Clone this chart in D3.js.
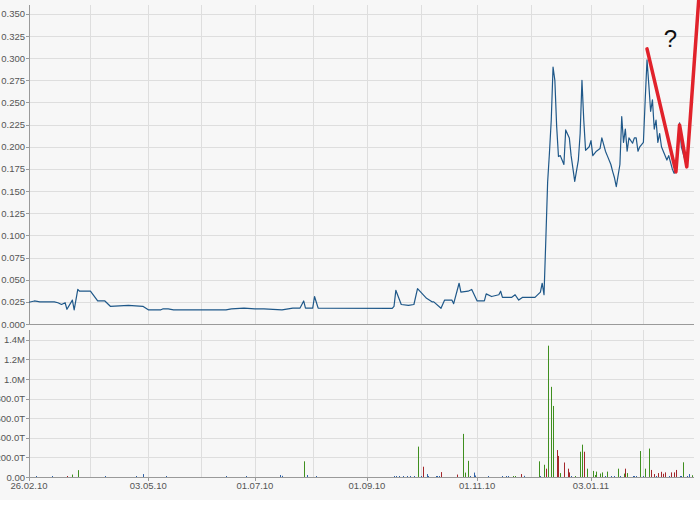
<!DOCTYPE html>
<html>
<head>
<meta charset="utf-8">
<script src="https://cdn.jsdelivr.net/npm/d3@7"></script>
<style>
  html, body { margin: 0; padding: 0; background: #ffffff; }
  svg { display: block; }
  text { font-family: "Liberation Sans", Arial, sans-serif; }
</style>
</head>
<body>
<svg id="chart" width="700" height="509"></svg>
<script>
// ---------- DATA ----------
const priceDates = [
"2010-02-26","2010-03-01","2010-03-04","2010-03-12","2010-03-14","2010-03-16","2010-03-18","2010-03-19",
"2010-03-22","2010-03-23","2010-03-25","2010-03-26","2010-04-01","2010-04-05","2010-04-09","2010-04-12",
"2010-04-22","2010-04-30","2010-05-03","2010-05-10","2010-05-11","2010-05-14","2010-05-17","2010-06-15",
"2010-06-18","2010-06-25","2010-07-01","2010-07-06","2010-07-16","2010-07-22","2010-07-26","2010-07-28",
"2010-07-29","2010-08-02","2010-08-03","2010-08-05","2010-09-15","2010-09-16","2010-09-17","2010-09-20",
"2010-09-24","2010-09-27","2010-09-29","2010-10-04","2010-10-07","2010-10-08","2010-10-12","2010-10-14",
"2010-10-18","2010-10-19","2010-10-22","2010-10-23","2010-10-27","2010-10-29","2010-11-01","2010-11-05",
"2010-11-06","2010-11-09","2010-11-13","2010-11-14","2010-11-15","2010-11-20","2010-11-22","2010-11-24",
"2010-11-26","2010-12-03","2010-12-06","2010-12-07","2010-12-08","2010-12-09","2010-12-10","2010-12-11",
"2010-12-12","2010-12-13","2010-12-14","2010-12-15","2010-12-16","2010-12-17","2010-12-18","2010-12-19",
"2010-12-20","2010-12-22","2010-12-23","2010-12-25","2010-12-27","2010-12-28","2010-12-29","2010-12-30",
"2010-12-31","2011-01-02","2011-01-03","2011-01-04","2011-01-06","2011-01-08","2011-01-09","2011-01-11",
"2011-01-12","2011-01-14","2011-01-15","2011-01-16","2011-01-17","2011-01-19","2011-01-20","2011-01-21",
"2011-01-22","2011-01-23","2011-01-24","2011-01-26","2011-01-27","2011-01-28","2011-01-29","2011-01-30",
"2011-02-01","2011-02-02","2011-02-03","2011-02-04","2011-02-05","2011-02-06","2011-02-07","2011-02-08",
"2011-02-09","2011-02-10","2011-02-11","2011-02-12","2011-02-14","2011-02-15","2011-02-17","2011-02-18",
"2011-02-19","2011-02-21","2011-02-22","2011-02-24","2011-02-25"
];
const priceValues = [
0.0245,0.026,0.025,0.025,0.024,0.022,0.024,0.0166,
0.027,0.016,0.039,0.037,0.037,0.026,0.026,0.020,
0.021,0.020,0.016,0.016,0.017,0.017,0.016,0.016,
0.017,0.018,0.017,0.017,0.016,0.018,0.018,0.026,
0.018,0.018,0.031,0.018,0.0177,0.020,0.038,0.022,
0.021,0.022,0.040,0.029,0.025,0.025,0.0177,0.027,
0.027,0.023,0.046,0.036,0.037,0.039,0.026,0.026,
0.034,0.031,0.033,0.037,0.030,0.030,0.033,0.027,
0.030,0.030,0.036,0.046,0.033,0.095,0.160,0.193,
0.230,0.290,0.275,0.223,0.189,0.190,0.185,0.180,
0.219,0.210,0.190,0.161,0.185,0.215,0.275,0.230,
0.196,0.200,0.207,0.190,0.195,0.198,0.210,0.195,
0.190,0.180,0.172,0.165,0.155,0.180,0.234,0.205,
0.220,0.195,0.210,0.204,0.210,0.210,0.195,0.200,
0.205,0.253,0.298,0.270,0.240,0.253,0.220,0.230,
0.205,0.215,0.200,0.195,0.185,0.190,0.175,0.170,
0.180,0.227,0.200,0.185,0.178
];

// volume: direction u = up (green), d = down (red), n = unchanged (blue)
const volDates = [
"2010-03-02","2010-03-11","2010-03-19","2010-03-22","2010-03-25","2010-04-09","2010-04-26","2010-04-30",
"2010-05-13","2010-06-15","2010-06-26","2010-07-15","2010-07-16","2010-07-28","2010-07-30","2010-08-04",
"2010-09-16","2010-09-17","2010-09-19","2010-09-21","2010-09-23","2010-09-25","2010-09-27","2010-09-29",
"2010-10-01","2010-10-02","2010-10-04","2010-10-05","2010-10-09","2010-10-10","2010-10-11","2010-10-12",
"2010-10-21","2010-10-24","2010-10-25","2010-10-27","2010-10-28","2010-10-30","2010-10-31","2010-11-07",
"2010-11-15","2010-11-17","2010-11-18","2010-11-21","2010-11-22","2010-11-25","2010-11-27","2010-12-05",
"2010-12-06","2010-12-08","2010-12-09","2010-12-10","2010-12-12","2010-12-13","2010-12-15","2010-12-16",
"2010-12-17","2010-12-19","2010-12-21","2010-12-22","2010-12-23","2010-12-25","2010-12-28","2010-12-29",
"2010-12-30","2011-01-01","2011-01-04","2011-01-05","2011-01-06","2011-01-08","2011-01-09","2011-01-11",
"2011-01-12","2011-01-14","2011-01-16","2011-01-18","2011-01-19","2011-01-21","2011-01-22","2011-01-23",
"2011-01-26","2011-01-27","2011-01-28","2011-01-30","2011-02-01","2011-02-02","2011-02-04","2011-02-05",
"2011-02-07","2011-02-08","2011-02-09","2011-02-11","2011-02-12","2011-02-13","2011-02-15","2011-02-16",
"2011-02-18","2011-02-19","2011-02-21","2011-02-22","2011-02-23","2011-02-25","2011-02-26","2011-02-28"
];
const volValues = [
8000,8000,10000,25000,70000,8000,8000,30000,
8000,8000,8000,20000,12000,160000,20000,8000,
8000,8000,8000,8000,8000,8000,8000,310000,
10000,105000,30000,10000,8000,8000,8000,50000,
25000,440000,45000,165000,8000,45000,15000,8000,
8000,8000,8000,8000,8000,30000,12000,160000,
10000,125000,85000,1340000,920000,725000,275000,215000,
40000,148000,85000,47000,10000,10000,258000,330000,
258000,85000,62000,20000,55000,35000,47000,10000,
55000,10000,10000,85000,10000,35000,85000,40000,
10000,10000,10000,265000,10000,85000,290000,72000,
30000,10000,40000,53000,33000,47000,10000,47000,
47000,72000,10000,10000,150000,10000,30000,18000
];
const volDir = [
"n","n","d","u","u","n","n","n",
"n","n","n","n","n","u","n","n",
"n","n","n","n","n","n","n","u",
"n","d","n","n","n","n","n","d",
"d","u","u","u","n","n","n","n",
"n","n","n","u","u","d","n","u",
"n","u","d","u","u","u","d","d",
"u","d","d","d","n","u","u","u",
"d","u","u","u","u","u","u","n",
"u","n","n","u","n","u","d","u",
"n","n","n","u","n","u","u","d",
"d","n","d","d","d","d","n","d",
"d","d","n","n","u","n","n","u"
];

// hand-drawn annotation
const annotDates = ["2011-02-03","2011-02-19","2011-02-21","2011-02-25","2011-03-04"];
const annotValues = [0.3105,0.1716,0.2247,0.1773,0.377];
const annotMark = "?";

// axes
const xDomain = ["2010-02-26","2011-03-01"];
const priceTicks = [0,0.025,0.05,0.075,0.1,0.125,0.15,0.175,0.2,0.225,0.25,0.275,0.3,0.325,0.35];
const volTicks = [0,200000,400000,600000,800000,1000000,1200000,1400000];
const volTickLabels = ["0.00","200.0T","400.0T","600.0T","800.0T","1.0M","1.2M","1.4M"];
const gridDates = ["2010-04-01","2010-05-03","2010-06-01","2010-07-01","2010-08-02","2010-09-01",
                   "2010-10-01","2010-11-01","2010-12-01","2011-01-03","2011-02-01"];
const xLabelDates = ["2010-02-26","2010-05-03","2010-07-01","2010-09-01","2010-11-01","2011-01-03"];
const xLabelTexts = ["26.02.10","03.05.10","01.07.10","01.09.10","01.11.10","03.01.11"];

// ---------- DRAW ----------
const parse = d3.timeParse("%Y-%m-%d");
const svg = d3.select("#chart");
const L = 29, R = 694;
const topY0 = 324, topY1 = 5;
const botY0 = 477, botY1 = 330;

svg.append("rect").attr("x",0).attr("y",0).attr("width",700).attr("height",500).attr("fill","#f7f7f7");

const x = d3.scaleTime().domain(xDomain.map(parse)).range([L, R]);
const yP = d3.scaleLinear().domain([0, 0.36]).range([topY0, topY1]);
const yV = d3.scaleLinear().domain([0, 1500000]).range([botY0, botY1]);

const gridColor = "#dedede", axisColor = "#9a9a9a", textColor = "#555";

// horizontal grids
svg.append("g").selectAll("line").data(priceTicks.filter(t => t > 0)).join("line")
  .attr("x1", L).attr("x2", R)
  .attr("y1", d => Math.round(yP(d)) + 0.5).attr("y2", d => Math.round(yP(d)) + 0.5)
  .attr("stroke", gridColor);
svg.append("g").selectAll("line").data(volTicks.filter(t => t > 0)).join("line")
  .attr("x1", L).attr("x2", R)
  .attr("y1", d => Math.round(yV(d)) + 0.5).attr("y2", d => Math.round(yV(d)) + 0.5)
  .attr("stroke", gridColor);

// vertical grids
const gd = gridDates.map(parse);
svg.append("g").selectAll("line").data(gd).join("line")
  .attr("x1", d => Math.round(x(d)) + 0.5).attr("x2", d => Math.round(x(d)) + 0.5)
  .attr("y1", topY1).attr("y2", topY0).attr("stroke", gridColor);
svg.append("g").selectAll("line").data(gd).join("line")
  .attr("x1", d => Math.round(x(d)) + 0.5).attr("x2", d => Math.round(x(d)) + 0.5)
  .attr("y1", botY1).attr("y2", botY0).attr("stroke", gridColor);

// axes lines
function axisLines(y0, y1) {
  svg.append("line").attr("x1", L + 0.5).attr("x2", L + 0.5).attr("y1", y1).attr("y2", y0 + 0.5)
    .attr("stroke", axisColor);
  svg.append("line").attr("x1", L).attr("x2", R).attr("y1", y0 + 0.5).attr("y2", y0 + 0.5)
    .attr("stroke", axisColor);
}
axisLines(topY0, topY1);
axisLines(botY0, botY1);

// y ticks + labels (top)
const gTop = svg.append("g");
gTop.selectAll("line").data(priceTicks).join("line")
  .attr("x1", L - 3).attr("x2", L)
  .attr("y1", d => Math.round(yP(d)) + 0.5).attr("y2", d => Math.round(yP(d)) + 0.5)
  .attr("stroke", axisColor);
gTop.selectAll("text").data(priceTicks).join("text")
  .attr("x", L - 4).attr("y", d => yP(d) + 3.5)
  .attr("text-anchor", "end").attr("font-size", "9.5px").attr("fill", textColor)
  .text(d => d3.format(".3f")(d));

// y ticks + labels (bottom)
const gBot = svg.append("g");
gBot.selectAll("line").data(volTicks).join("line")
  .attr("x1", L - 3).attr("x2", L)
  .attr("y1", d => Math.round(yV(d)) + 0.5).attr("y2", d => Math.round(yV(d)) + 0.5)
  .attr("stroke", axisColor);
gBot.selectAll("text").data(volTicks).join("text")
  .attr("x", L - 4).attr("y", d => yV(d) + 3.5)
  .attr("text-anchor", "end").attr("font-size", "9.5px").attr("fill", textColor)
  .text((d, i) => volTickLabels[i]);

// x ticks + labels
const xl = xLabelDates.map(parse);
svg.append("g").selectAll("line").data(xl).join("line")
  .attr("x1", d => Math.round(x(d)) + 0.5).attr("x2", d => Math.round(x(d)) + 0.5)
  .attr("y1", botY0).attr("y2", botY0 + 4).attr("stroke", axisColor);
svg.append("g").selectAll("text").data(xl).join("text")
  .attr("x", d => x(d)).attr("y", 489)
  .attr("text-anchor", "middle").attr("font-size", "9.5px").attr("fill", textColor)
  .text((d, i) => xLabelTexts[i]);

// volume bars
const volColor = { u: "#3f8f1f", d: "#a3262a", n: "#2f62a8" };
svg.append("g").selectAll("rect").data(volDates.map((d, i) => ({ d: parse(d), v: volValues[i], k: volDir[i] })))
  .join("rect")
  .attr("x", d => Math.round(x(d.d)))
  .attr("width", 1)
  .attr("y", d => Math.min(yV(d.v), botY0 - 1))
  .attr("height", d => Math.max(botY0 - yV(d.v), 1))
  .attr("fill", d => volColor[d.k]);

// price line
const pdata = priceDates.map((d, i) => ({ d: parse(d), v: priceValues[i] }));
svg.append("path").datum(pdata)
  .attr("d", d3.line().x(d => x(d.d)).y(d => yP(d.v)))
  .attr("fill", "none").attr("stroke", "#1f5889").attr("stroke-width", 1.2)
  .attr("stroke-linejoin", "round");

// annotation
const adata = annotDates.map((d, i) => ({ d: parse(d), v: annotValues[i] }));
svg.append("path").datum(adata)
  .attr("d", d3.line().x(d => x(d.d)).y(d => yP(d.v)))
  .attr("fill", "none").attr("stroke", "#e1222b").attr("stroke-width", 3.5)
  .attr("stroke-linejoin", "round").attr("stroke-linecap", "round");

svg.append("text")
  .attr("x", x(parse("2011-02-16")))
  .attr("y", yP(0.313))
  .attr("text-anchor", "middle")
  .attr("font-family", "DejaVu Sans, sans-serif")
  .attr("font-size", "24px").attr("fill", "#111")
  .text(annotMark);
</script>
</body>
</html>
